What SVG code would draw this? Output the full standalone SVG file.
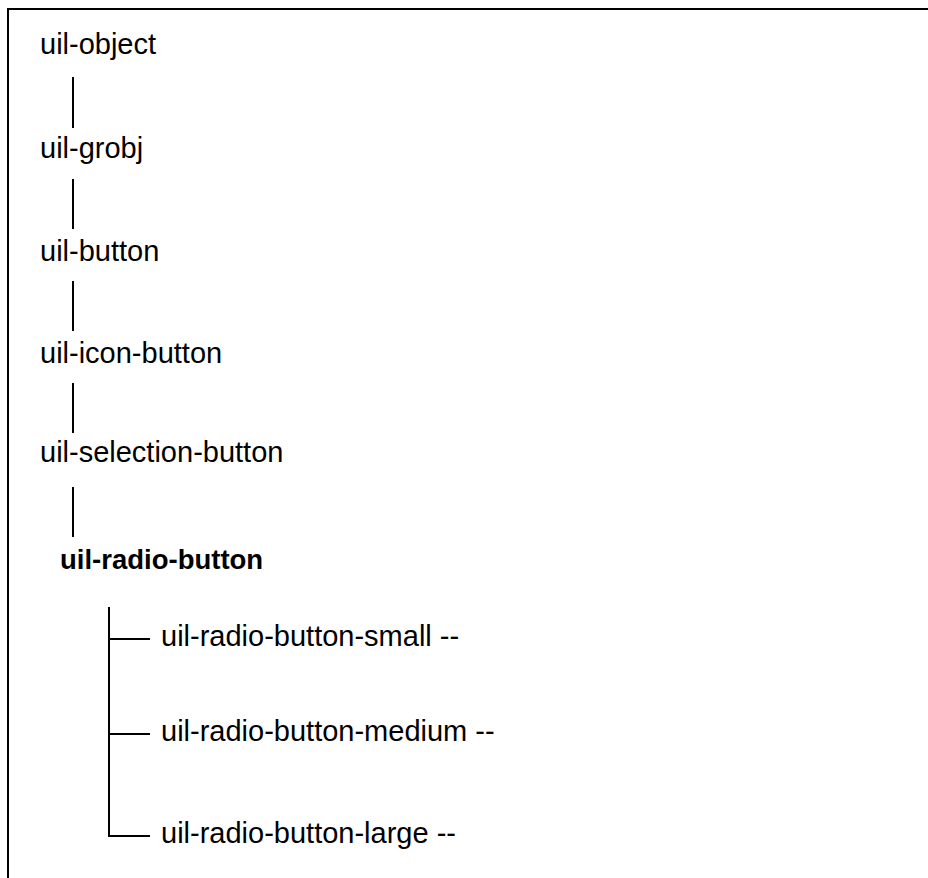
<svg xmlns="http://www.w3.org/2000/svg" width="928" height="878" viewBox="0 0 928 878">
  <style>
    .lbl { font-family: "Liberation Sans", Arial, sans-serif; font-size: 29px; fill: #000; }
    .cur { font-weight: bold; font-size: 27.5px; }
    .ln { stroke: #000; stroke-width: 2; fill: none; }
  </style>
  <rect x="0" y="0" width="928" height="878" fill="#fff"/>
  <!-- frame: top and left edges only -->
  <path class="ln" d="M8 878 V9 H928"/>

  <g id="connectors">
    <line class="ln" x1="73" y1="77" x2="73" y2="128"/>
    <line class="ln" x1="73" y1="179" x2="73" y2="229"/>
    <line class="ln" x1="73" y1="281" x2="73" y2="331"/>
    <line class="ln" x1="73" y1="383" x2="73" y2="433"/>
    <line class="ln" x1="73" y1="487" x2="73" y2="537"/>
    <path class="ln" d="M109 607 V836 H150"/>
    <line class="ln" x1="109" y1="639" x2="150" y2="639"/>
    <line class="ln" x1="109" y1="734" x2="150" y2="734"/>
  </g>

  <g id="uil-object"><text class="lbl" x="40" y="54">uil-object</text></g>
  <g id="uil-grobj"><text class="lbl" x="40" y="158">uil-grobj</text></g>
  <g id="uil-button"><text class="lbl" x="40" y="261">uil-button</text></g>
  <g id="uil-icon-button"><text class="lbl" x="40" y="363">uil-icon-button</text></g>
  <g id="uil-selection-button"><text class="lbl" x="40" y="462">uil-selection-button</text></g>
  <g id="uil-radio-button"><text class="lbl cur" x="60" y="569">uil-radio-button</text></g>
  <g id="uil-radio-button-small"><text class="lbl" x="161" y="646">uil-radio-button-small --</text></g>
  <g id="uil-radio-button-medium"><text class="lbl" x="161" y="741">uil-radio-button-medium --</text></g>
  <g id="uil-radio-button-large"><text class="lbl" x="161" y="843">uil-radio-button-large --</text></g>
</svg>
